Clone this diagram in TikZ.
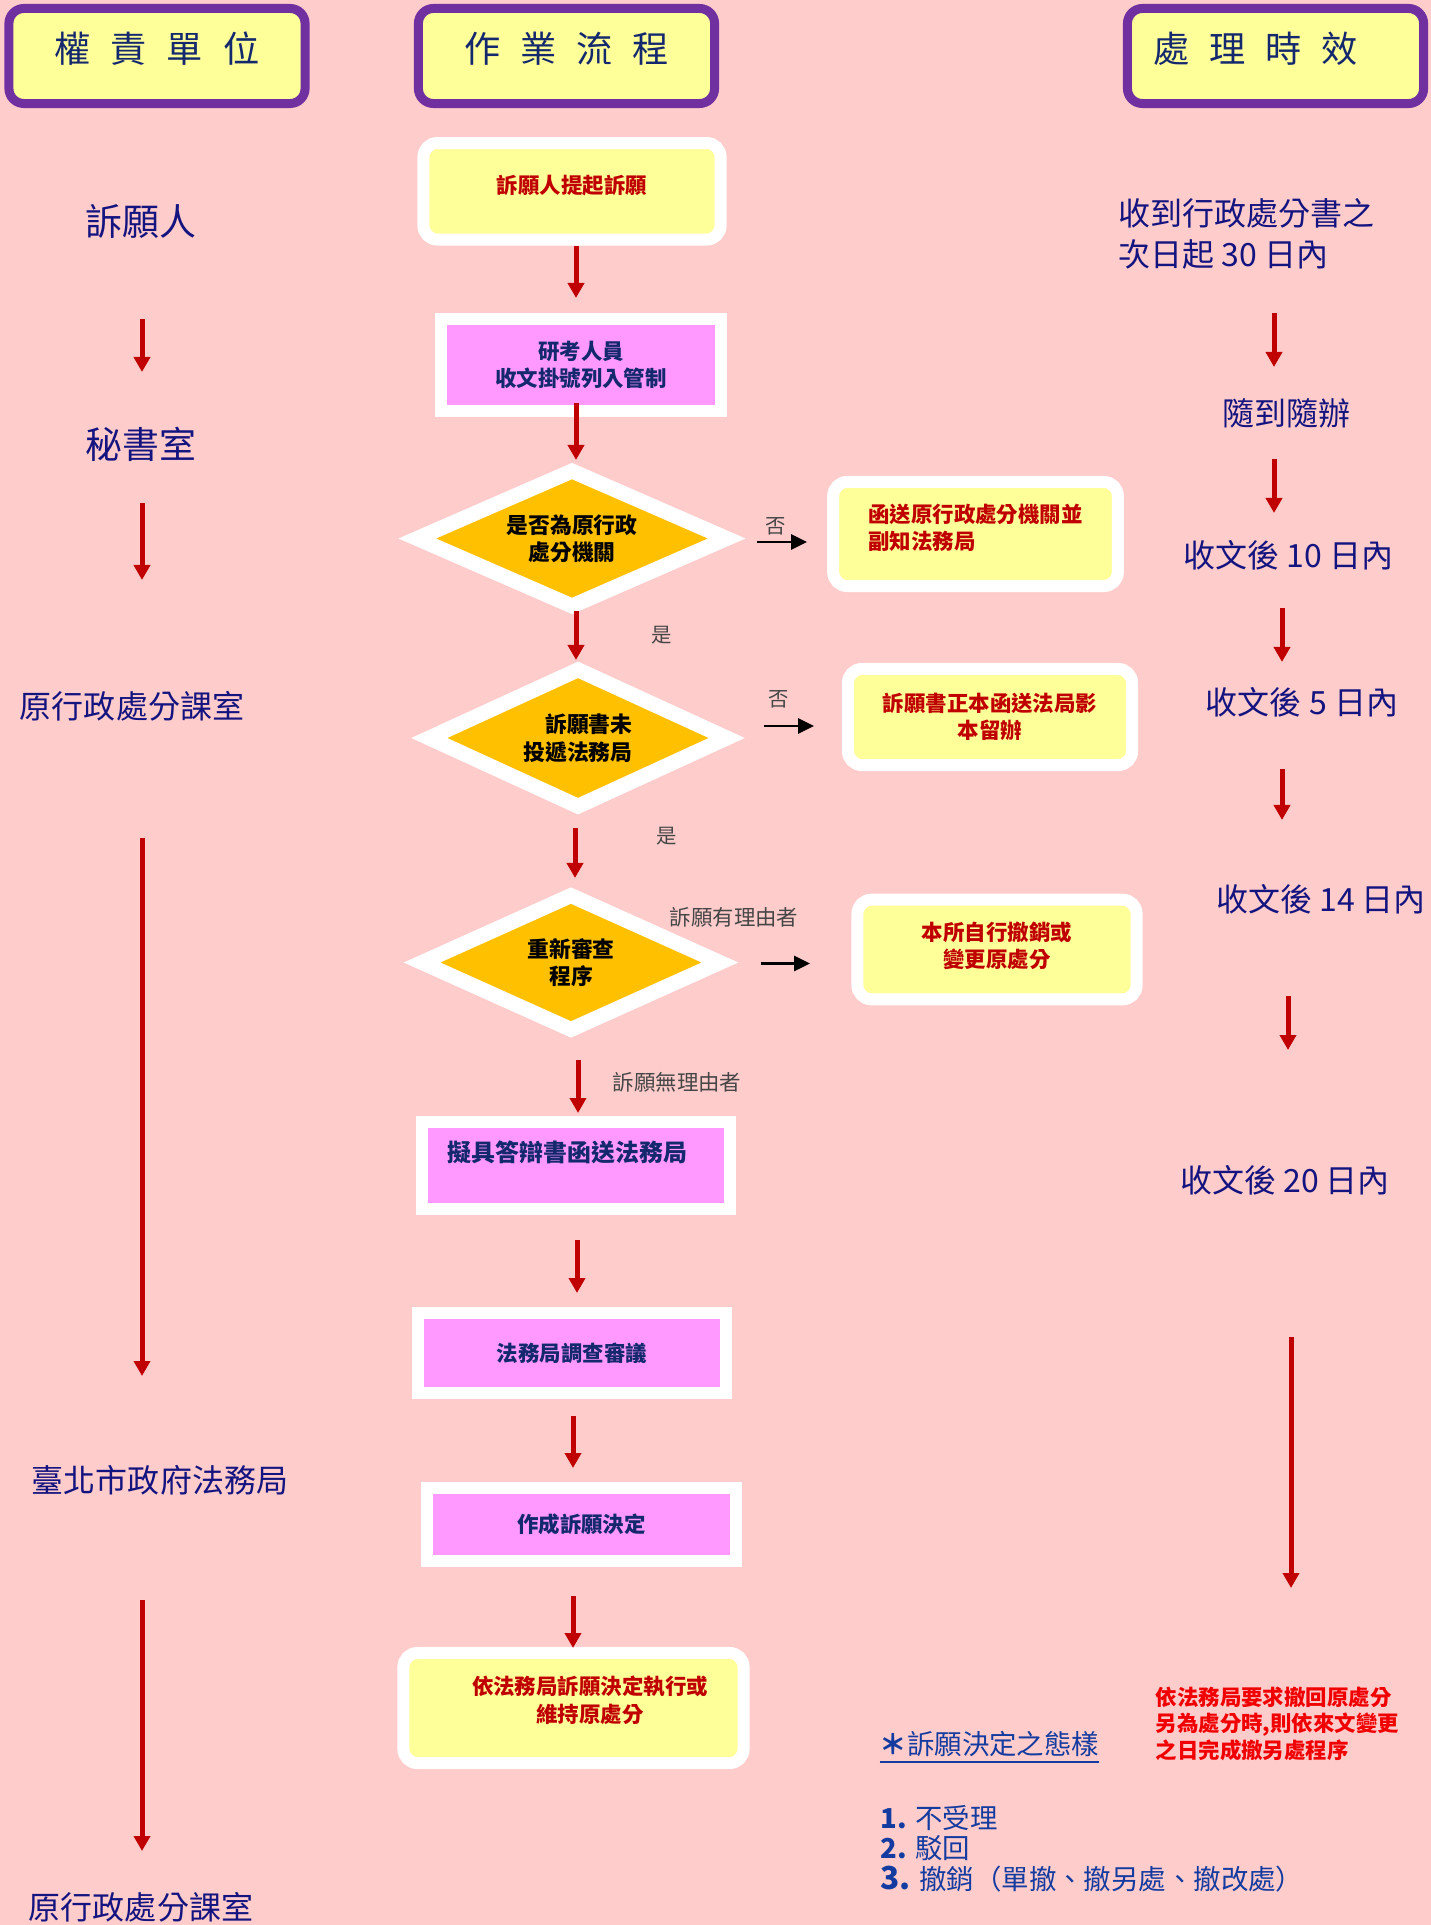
\documentclass[tikz,border=0pt]{standalone}
\usepackage{fontspec}
\setmainfont{Noto Sans CJK TC}
\usetikzlibrary{arrows.meta, shapes.geometric, calc}
\definecolor{bgpink}{RGB}{255,204,204}
\definecolor{hdpurple}{RGB}{112,48,160}
\definecolor{boxyellow}{RGB}{255,255,153}
\definecolor{boxpink}{RGB}{255,153,255}
\definecolor{dorange}{RGB}{255,192,0}
\definecolor{arrred}{RGB}{192,0,0}
\definecolor{txtnavy}{RGB}{20,20,128}
\definecolor{hdnavy}{RGB}{20,40,110}
\definecolor{txtred}{RGB}{192,0,0}
\definecolor{notered}{RGB}{240,0,0}
\definecolor{labgray}{RGB}{70,70,70}
\definecolor{listblue}{RGB}{20,60,160}
\newcommand\hgap{\hspace{0.55em}}
\tikzset{
	every node/.style={
		font=\fontsize{6.1}{7.8}\selectfont
	},
	head/.style={
		shape=rectangle,
		draw=hdpurple,
		line width=0.09cm,
		fill=boxyellow,
		rounded corners=0.15cm,
		minimum width=2.96cm,
		minimum height=0.95cm,
		text depth=0.18cm,
		text=hdnavy,
		font=\fontsize{10.3}{12}\selectfont
	},
	ybox/.style={
		shape=rectangle,
		draw=white,
		line width=0.12cm,
		fill=boxyellow,
		rounded corners=0.14cm,
		inner sep=0pt,
		align=center,
		text=txtred,
		font=\fontsize{6.1}{7.8}\selectfont\bfseries
	},
	pbox/.style={
		shape=rectangle,
		draw=white,
		line width=0.12cm,
		fill=boxpink,
		inner sep=0pt,
		align=center,
		text=hdnavy,
		font=\fontsize{6.1}{7.8}\selectfont\bfseries
	},
	decision/.style={
		shape=diamond,
		aspect=2.2,
		draw=white,
		line width=0.15cm,
		line join=miter,
		fill=dorange,
		inner sep=0pt,
		align=center,
		font=\fontsize{6.2}{7.8}\selectfont\bfseries
	},
	choice/.style={
		inner sep=0pt,
		text=labgray,
		font=\fontsize{5.8}{7}\selectfont
	},
	unittext/.style={
		inner sep=0pt,
		text=txtnavy,
		font=\fontsize{9.1}{11.7}\selectfont
	},
	rednote/.style={
		inner sep=0pt,
		align=left,
		text=notered,
		font=\fontsize{6.1}{7.55}\selectfont\bfseries
	},
	listtext/.style={
		inner sep=0pt,
		align=left,
		text=listblue,
		font=\fontsize{7.8}{8.7}\selectfont
	},
	flow/.style={draw=arrred, line width=0.05cm, -{Triangle[width=0.16cm,length=0.15cm]}},
	side/.style={draw=black, line width=0.028cm, -{Triangle[width=0.15cm,length=0.16cm]}},
}

\begin{document}
\begin{tikzpicture}[x=0.01cm, y=-0.01cm]
	
	\useasboundingbox (0,0) rectangle (1431,1925);
	\fill[bgpink] (0,0) rectangle (1431,1925);
	
	% headers
	\node[head] (h1) at (157,56) {權\hgap 責\hgap 單\hgap 位};
	\node[head] (h2) at (566.5,56) {作\hgap 業\hgap 流\hgap 程};
	\node[head] (h3) at (1275.5,56) {處\hgap 理\hgap 時\hgap 效\hspace*{0.4cm}};
	
	% flow
	\node[ybox, minimum width=2.97cm, minimum height=0.965cm, text depth=0.14cm] (b1) at (572,191.3) {訴願人提起訴願};
	\node[pbox, minimum width=2.795cm, minimum height=0.92cm] (b2) at (581,365) {研考人員\\收文掛號列入管制};
	\node[decision, minimum width=3.155cm, minimum height=1.41cm] (d1) at (572,538.5) {是否為原行政\\處分機關};
	\node[ybox, align=left, minimum width=2.845cm, minimum height=1.04cm, text depth=0.14cm] (b3) at (975.5,534) {函送原行政處分機關並\\副知法務局};
	\node[decision, align=right, minimum width=3.035cm, minimum height=1.425cm] (d2) at (578,738) {訴願書未\\投遞法務局};
	\node[ybox, minimum width=2.84cm, minimum height=0.96cm] (b4) at (990,717) {訴願書正本函送法局影\\本留辦};
	\node[decision, minimum width=3.04cm, minimum height=1.40cm] (d3) at (571,962.5) {重新審查\\程序};
	\node[ybox, minimum width=2.79cm, minimum height=0.995cm, text depth=0.10cm] (b5) at (997,949.5) {本所自行撤銷或\\變更原處分};
	\node[pbox, align=left, text width=2.56cm, minimum width=3.08cm, minimum height=0.87cm, text depth=0.29cm, font=\fontsize{6.8}{8}\selectfont\bfseries] (b6) at (576,1165.5) {擬具答辯書函送法務局};
	\node[pbox, minimum width=3.08cm, minimum height=0.795cm] (b7) at (572,1353) {法務局調查審議};
	\node[pbox, minimum width=3.085cm, minimum height=0.735cm] (b8) at (581.5,1524.5) {作成訴願決定};
	\node[ybox, minimum width=3.40cm, minimum height=1.10cm, text depth=0.18cm] (b9) at (573.5,1708) {\hspace*{0.33cm}依法務局訴願決定執行或\\\hspace*{0.33cm}維持原處分};
	
	\node[choice] (no1) at (776,526) {否};
	\node[choice] (yes1) at (662,635) {是};
	\node[choice] (no2) at (779,699) {否};
	\node[choice] (yes2) at (667,836) {是};
	\node[choice, font=\fontsize{6.1}{7.8}\selectfont] (ok1) at (734,917) {訴願有理由者};
	\node[choice, font=\fontsize{6.1}{7.8}\selectfont] (ok2) at (677,1082) {訴願無理由者};
	
	% units
	\node[unittext, font=\fontsize{10.5}{12}\selectfont] (l1) at (141,221) {訴願人};
	\node[unittext, font=\fontsize{10.5}{12}\selectfont] (l2) at (141,444) {秘書室};
	\node[unittext] (l3) at (132,706) {原行政處分課室};
	\node[unittext] (l4) at (160,1480) {臺北市政府法務局};
	\node[unittext] (l5) at (141,1907) {原行政處分課室};
	
	% time limits
	\node[unittext, align=left, anchor=west] (r1) at (1118,233.5) {收到行政處分書之\\次日起 30 日內};
	\node[unittext] (r2) at (1286,413) {隨到隨辦};
	\node[unittext] (r3) at (1288.5,555) {收文後 10 日內};
	\node[unittext] (r4) at (1302,702) {收文後 5 日內};
	\node[unittext] (r5) at (1321,899) {收文後 14 日內};
	\node[unittext] (r6) at (1285,1180) {收文後 20 日內};
	\node[rednote, anchor=west] (rn) at (1155,1723.5) {依法務局要求撤回原處分\\另為處分時,則依來文變更\\之日完成撤另處程序};
	
	\node[listtext, anchor=west] (kind) at (879,1748) {\underline{\textbf{＊}訴願決定之態樣}};
	\node[listtext, anchor=west] (kinds) at (880,1848.5) {\textbf{1.} 不受理\\\textbf{2.} 駁回\\{\fontsize{9}{8.7}\selectfont\textbf{3.}} 撤銷（單撤、撤另處、撤改處）};
	
	\draw[flow] ($(b1.center)+(4,54.7)$) -- ($(b2.center)+(-5,-67)$);
	\draw[flow] ($(b2.center)+(-5,38)$) -- ($(d1.center)+(4,-78.5)$);
	\draw[flow] ($(d1.center)+(4,72.5)$) -- ($(d2.center)+(-2,-78)$);
	\draw[flow] ($(d2.center)+(-3,90)$) -- ($(d3.center)+(4,-84.5)$);
	\draw[flow] ($(d3.center)+(7,97.5)$) -- ($(b6.center)+(2,-52.5)$);
	\draw[flow] ($(b6.center)+(1,74.5)$) -- ($(b7.center)+(5,-60)$);
	\draw[flow] ($(b7.center)+(1,63)$) -- ($(b8.center)+(-8.5,-56.5)$);
	\draw[flow] ($(b8.center)+(-8.5,71.5)$) -- ($(b9.center)+(-0.5,-60)$);
	
	\draw[side] ($(d1.center)+(185,3.5)$) -- ($(b3.center)+(-168.5,8)$);
	\draw[side] ($(d2.center)+(186,-12)$) -- ($(b4.center)+(-176,9)$);
	\draw[side] ($(d3.center)+(189.5,1)$) -- ($(b5.center)+(-187,14)$);
	
	\draw[flow] ($(l1.center)+(1,98)$) -- ($(l2.center)+(1,-72)$);
	\draw[flow] ($(l2.center)+(1,59)$) -- ($(l3.center)+(10,-126)$);
	\draw[flow] ($(l3.center)+(10,132)$) -- ($(l4.center)+(-18,-104)$);
	\draw[flow] ($(l4.center)+(-18,120)$) -- ($(l5.center)+(1,-56)$);
	
	\draw[flow] ($(r1.west)+(156,79.5)$) -- ($(r2.center)+(-12,-46)$);
	\draw[flow] ($(r2.center)+(-12,46)$) -- ($(r3.center)+(-14.5,-42)$);
	\draw[flow] ($(r3.center)+(-6.5,53)$) -- ($(r4.center)+(-20,-40)$);
	\draw[flow] ($(r4.center)+(-20,67)$) -- ($(r5.center)+(-39,-79)$);
	\draw[flow] ($(r5.center)+(-33,97)$) -- ($(r6.center)+(3,-130)$);
	\draw[flow] ($(r6.center)+(6,157)$) -- ($(rn.west)+(136,-135.5)$);
	
\end{tikzpicture}
\end{document}
